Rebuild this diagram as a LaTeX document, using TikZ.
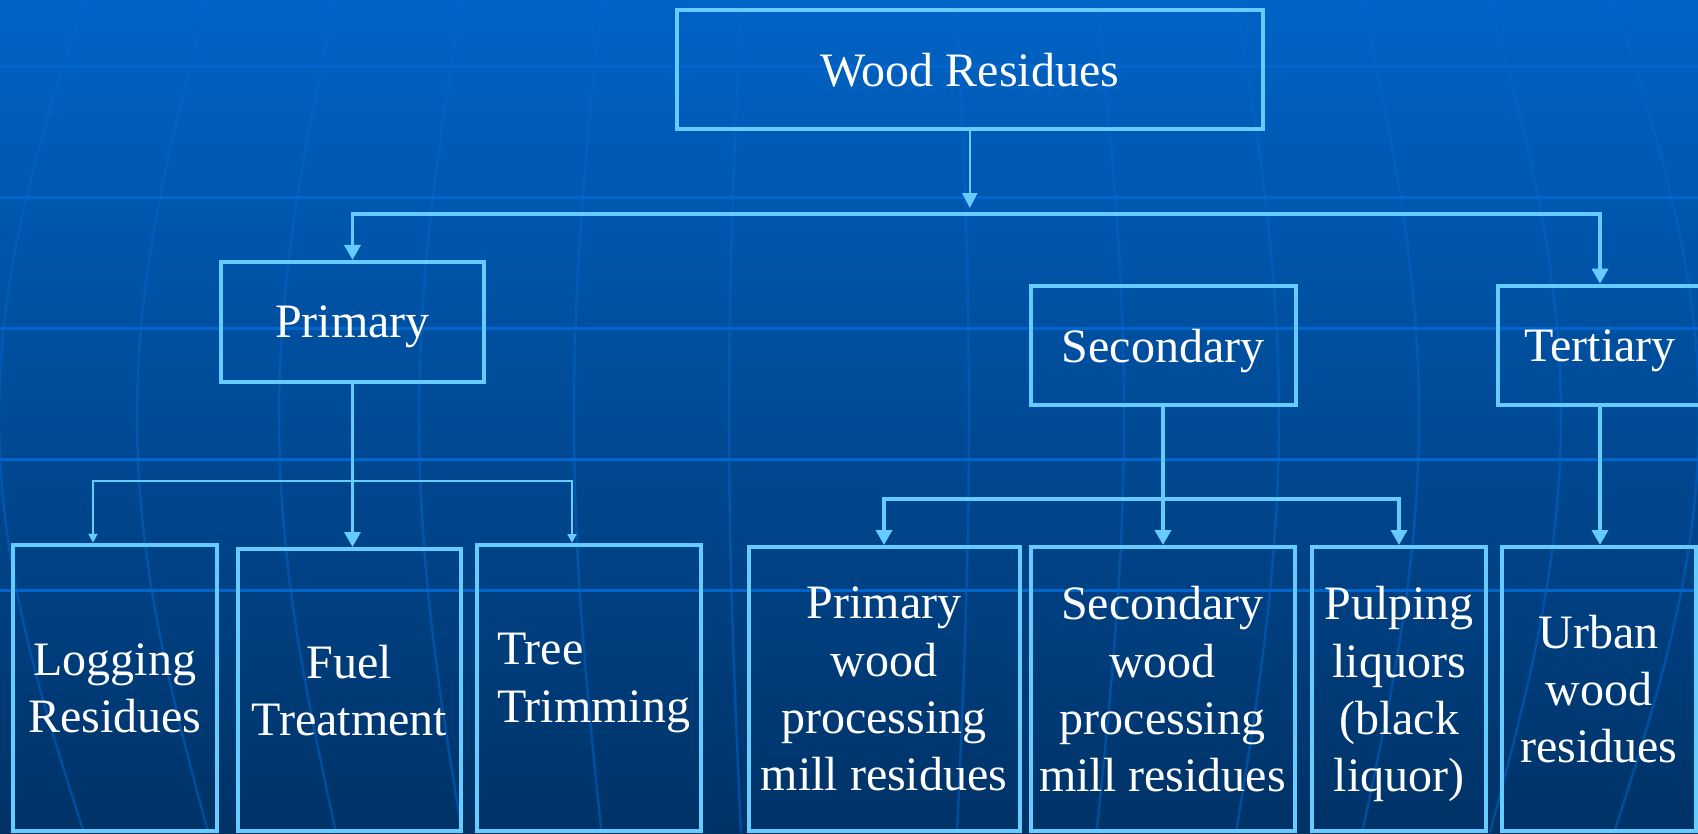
\documentclass[tikz,border=0pt]{standalone}
\usepackage{fontspec}
\setmainfont{Liberation Serif}
\usetikzlibrary{arrows.meta}
\definecolor{bgtop}{RGB}{0,99,198}
\definecolor{bgbot}{RGB}{0,50,102}
\definecolor{edge}{RGB}{102,204,255}
\definecolor{deco}{RGB}{0,102,206}
\begin{document}
\begin{tikzpicture}[x=1pt,y=-1pt,
  box/.style={draw=edge, line width=4pt, text=white, align=center, inner sep=0pt,
    font=\fontsize{48}{57.3}\selectfont, text depth=0pt},
  txt/.style={text=white, inner sep=0pt, font=\fontsize{48}{57.3}\selectfont},
  conn/.style={draw=edge, line width=3.5pt, line join=miter, -{Triangle[length=15pt,width=16pt]}},
  connthin/.style={draw=edge, line width=2pt, line join=miter, -{Triangle[length=15pt,width=15pt]}},
  conn2/.style={draw=edge, line width=3.5pt, line join=miter, {Triangle[length=15pt,width=16pt]}-{Triangle[length=15pt,width=16pt]}},
  thin2/.style={draw=edge, line width=2pt, line join=miter, {Triangle[length=9pt,width=9pt]}-{Triangle[length=9pt,width=9pt]}},
  hline/.style={draw=deco, line width=3pt},
  merid/.style={draw=deco, line width=2.5pt, opacity=0.5}]
\useasboundingbox (0,0) rectangle (1698,833);
% background
\fill[top color=bgtop, bottom color=bgbot] (0,0) rectangle (1698,833);
\foreach \d in {120,275,430,570,712,850}{
  \draw[merid] plot[domain=0:833, samples=60] ({849-\d*(0.9+0.1*sin(\x*0.21609))},\x);
  \draw[merid] plot[domain=0:833, samples=60] ({849+\d*(0.9+0.1*sin(\x*0.21609))},\x);
}
\foreach \yy in {66.7,197.5,328.3,459.3,590}{
  \draw[hline] (0,\yy) -- (1698,\yy);
}
% boxes
\node[box, minimum width=585.5pt, minimum height=119.8pt] (wr) at (969.8,69.4) {Wood Residues};
\node[box, minimum width=263pt, minimum height=119.7pt] (prim) at (352.5,321.8) {Primary};
\node[box, minimum width=265pt, minimum height=119.6pt] (sec) at (1163,345.5) {Secondary};
\node[box, minimum width=204.6pt, minimum height=119.6pt] (tert) at (1600,345.5) {Tertiary};
\node[box, minimum width=204pt, minimum height=286.3pt] (logr) at (115,687.9) {Logging\\Residues};
\node[box, minimum width=223pt, minimum height=282pt] (fuel) at (349.5,690) {Fuel\\Treatment};
\node[box, minimum width=224pt, minimum height=286pt] (tree) at (589,688) {};
\node[txt, anchor=base west, align=left] (treetxt) at (497,722) {Tree\\Trimming};
\node[box, minimum width=271pt, minimum height=284pt] (pwood) at (884,689) {Primary\\wood\\processing\\mill residues};
\node[box, minimum width=264pt, minimum height=284pt] (swood) at (1162.5,689) {Secondary\\wood\\processing\\mill residues};
\node[box, minimum width=174.5pt, minimum height=284pt] (pulp) at (1399,689) {Pulping\\liquors\\(black\\liquor)};
\node[box, minimum width=193.5pt, minimum height=284pt] (urban) at (1598.8,689) {Urban\\wood\\residues};
% connectors
\coordinate (busL) at (352.5,214);
\coordinate (busR) at (1600,214);
\coordinate (pbL) at (93,481);
\coordinate (pbR) at (572,481);
\coordinate (sbL) at (884,499);
\coordinate (sbR) at (1399,499);
\draw[connthin] (wr.south) -- ([yshift=6pt]wr.south |- busL);
\draw[conn2] (prim.north) -- (busL) -- (busR) -- (tert.north);
\draw[conn] (prim.south) -- (prim.south |- fuel.north);
\draw[thin2] (pbL |- logr.north) -- (pbL) -- (pbR) -- (pbR |- tree.north);
\draw[conn] (sec.south) -- (sec.south |- swood.north);
\draw[conn2] (pwood.north) -- (sbL) -- (sbR) -- (pulp.north);
\draw[conn] (tert.south) -- (tert.south |- urban.north);
\end{tikzpicture}
\end{document}
